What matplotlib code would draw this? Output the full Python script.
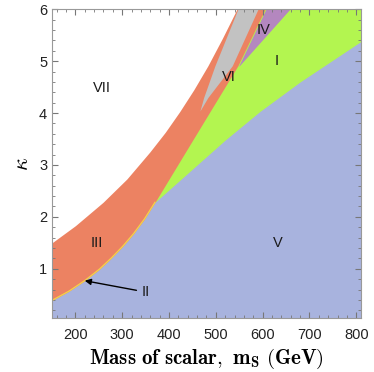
import numpy as np
import matplotlib.pyplot as plt
from matplotlib.ticker import MultipleLocator

plt.rcParams['mathtext.fontset'] = 'cm'

# boundary of region V (blue), kappa as a function of m_S
m_V = [150, 185, 220, 250, 274, 300, 323, 347, 370, 450, 520, 594, 680, 750, 810]
k_V = [0.39, 0.56, 0.77, 0.98, 1.18, 1.42, 1.66, 1.95, 2.28, 2.92, 3.48, 4.03,
       4.60, 5.02, 5.38]

# upper edge of region III (orange / white)
m_III = [150, 200, 259, 310, 359, 392, 423, 453, 483, 514, 545]
k_III = [1.5, 1.83, 2.28, 2.73, 3.25, 3.63, 4.03, 4.45, 4.91, 5.44, 6.0]

# left edge of region I (green), as m_S against kappa
k_I = [2.28, 3.5, 4.91, 6.0]
m_I = [370, 452, 547, 605]

# region VI (grey) edges
k_VI = [4.04, 4.3, 4.91, 6.0]
m_VI_left = [466, 474, 498, 547]
m_VI_right = [466, 483, 535, 590]

# region IV (purple) right edge
k_IV = [4.91, 6.0]
m_IV_right = [550, 658]

# region labels
labels = ['VII', 'VI', 'IV', 'I', 'III', 'V']
label_m = [257, 528, 601, 631, 246, 633]
label_k = [4.48, 4.70, 5.60, 5.00, 1.50, 1.50]

xmin, xmax = 150, 810
ymin, ymax = 0.05, 6.0

c_blue = '#a8b3de'
c_orange = '#ec8262'
c_green = '#b3f550'
c_gray = '#c2c2c2'
c_purple = '#b487bf'
c_yellow = '#f2d04a'

sans = ['Liberation Sans', 'DejaVu Sans']

fig = plt.figure(figsize=(3.74, 3.72), dpi=100)
ax = fig.add_axes([0.139, 0.145, 0.826, 0.830])

m = np.linspace(xmin, xmax, 800)
ax.fill_between(m, ymin, np.interp(m, m_III, k_III), color=c_orange, lw=0)

k = np.linspace(k_I[0], ymax, 400)
ax.fill_betweenx(k, np.interp(k, k_I, m_I), xmax, color=c_green, lw=0)

k = np.linspace(k_IV[0], ymax, 200)
ax.fill_betweenx(k, np.interp(k, k_I, m_I) + 2, np.interp(k, k_IV, m_IV_right),
                 color=c_purple, lw=0)

k = np.linspace(k_VI[0], ymax, 200)
ax.fill_betweenx(k, np.interp(k, k_VI, m_VI_left), np.interp(k, k_VI, m_VI_right),
                 color=c_gray, lw=0)

ax.fill_between(m, ymin, np.interp(m, m_V, k_V), color=c_blue, lw=0)

# thin region II along the lower edge of III
m2 = np.linspace(150, 370, 200)
ax.plot(m2, np.interp(m2, m_V, k_V), color=c_yellow, lw=1.0)

for t, x, y in zip(labels, label_m, label_k):
    ax.text(x, y, t, ha='center', va='center', fontsize=10.5, color='#1a1a1a',
            family=sans)

ax.annotate('II', xy=(220, 0.77), xytext=(351, 0.55), ha='center', va='center',
            fontsize=10.5, color='#1a1a1a', family=sans,
            arrowprops=dict(arrowstyle='-|>', color='black', lw=1, shrinkA=2, shrinkB=0,
                            mutation_scale=9))

ax.set_xlim(xmin, xmax)
ax.set_ylim(ymin, ymax)
ax.set_xticks([200, 300, 400, 500, 600, 700, 800])
ax.set_yticks([1, 2, 3, 4, 5, 6])
ax.xaxis.set_minor_locator(MultipleLocator(20))
ax.yaxis.set_minor_locator(MultipleLocator(0.2))
ax.tick_params(which='both', direction='in', top=True, right=True, color='#777777',
               labelsize=10.5, labelcolor='#222222')
ax.tick_params(axis='x', pad=7)
ax.tick_params(which='major', length=4, width=0.8)
ax.tick_params(which='minor', length=2, width=0.6)
for lab in ax.get_xticklabels() + ax.get_yticklabels():
    lab.set_family(sans)
for s in ax.spines.values():
    s.set_color('#999999')

ax.set_xlabel(r'$\mathbf{Mass\ of\ scalar,\ m_S\ (GeV)}$', fontsize=15, labelpad=4)
ax.set_ylabel(r'$\kappa$', fontsize=16, labelpad=5)

fig.savefig('out.png', dpi=100)
